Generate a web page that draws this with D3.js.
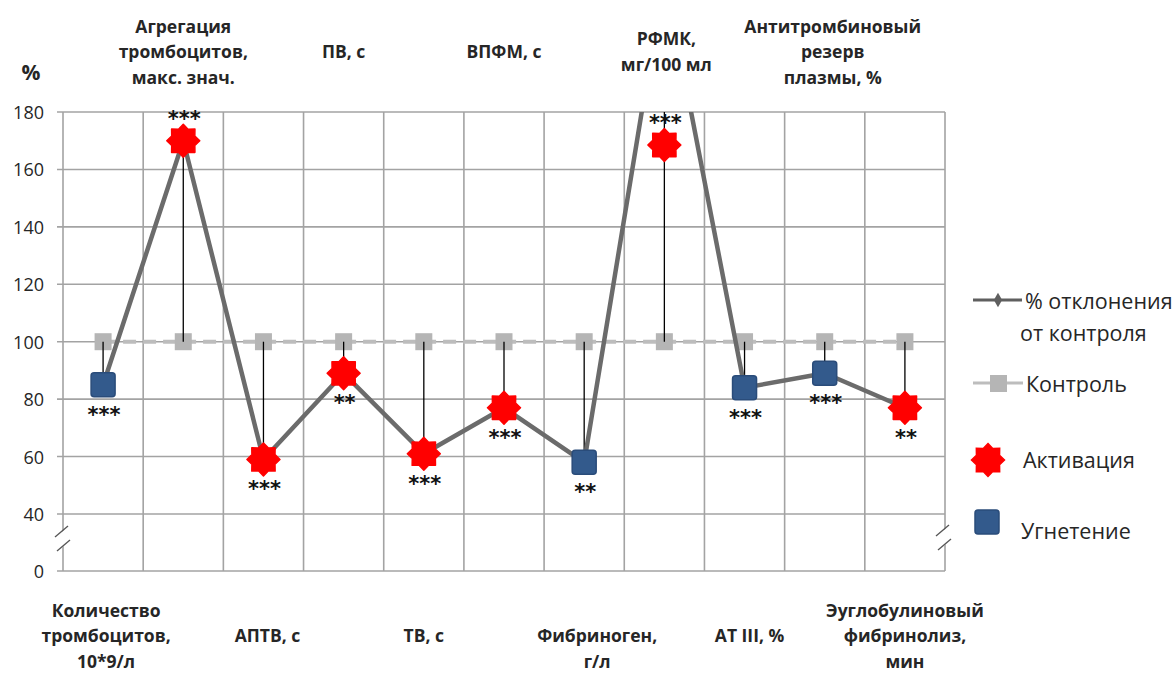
<!DOCTYPE html>
<html><head><meta charset="utf-8">
<script src="https://cdn.jsdelivr.net/npm/d3@7"></script>
<style>
body{margin:0;background:#fff;}
svg{display:block;}
text{font-family:"Open Sans",sans-serif;fill:#262626;}
</style>
</head><body>
<svg id="c" width="1176" height="673"></svg>
<script>
// ---------- data ----------
const categories = ["Количество тромбоцитов, 10*9/л","Агрегация тромбоцитов, макс. знач.","АПТВ, с","ПВ, с","ТВ, с","ВПФМ, с","Фибриноген, г/л","РФМК, мг/100 мл","AT III, %","Антитромбиновый резерв плазмы, %","Эуглобулиновый фибринолиз, мин"];
const labelLines = [["Количество","тромбоцитов,","10*9/л"],["Агрегация","тромбоцитов,","макс. знач."],["АПТВ, с"],["ПВ, с"],["ТВ, с"],["ВПФМ, с"],["","Фибриноген,","г/л"],["РФМК,","мг/100 мл"],["AT III, %"],["Антитромбиновый","резерв","плазмы, %"],["Эуглобулиновый","фибринолиз,","мин"]];
const labelSide = ["bottom","top","bottom","top","bottom","top","bottom","top","bottom","top","bottom"];
const deviation = [85,170,59,89,61,77,58,228,84,89,77];      // % отклонения от контроля
const control = [100,100,100,100,100,100,100,100,100,100,100]; // Контроль
const markerType = ["Угнетение","Активация","Активация","Активация","Активация","Активация","Угнетение","Активация","Угнетение","Угнетение","Активация"];
const markerValue = [85,170,59,89,61,77,58,168.5,84,89,77];
const significance = ["***","***","***","**","***","***","**","***","***","***","**"];
const significanceSide = ["below","above","below","below","below","below","below","above","below","below","below"];
const yTicks = [0,40,60,80,100,120,140,160,180];
const legendItems = [["% отклонения","от контроля"],["Контроль"],["Активация"],["Угнетение"]];

// ---------- layout ----------
const svg = d3.select("#c");
const X0 = 63, X1 = 945, YTOP = 112, YBOT = 571;
const x = d3.scaleBand().domain(categories).range([X0, X1]).padding(0);
const cx = i => x(categories[i]) + x.bandwidth()/2;
const y = d3.scaleLinear().domain([0,40,180]).range([YBOT, 514, YTOP]);

const GRID = "#a3a3a3";
const defs = svg.append("defs");
defs.append("clipPath").attr("id","plotclip").append("rect")
  .attr("x", X0-20).attr("y", YTOP).attr("width", X1-X0+40).attr("height", YBOT-YTOP);
defs.append("filter").attr("id","soft").append("feGaussianBlur").attr("stdDeviation",0.6);

// grid (horizontal with outward ticks)
svg.append("g").selectAll("line").data(yTicks).join("line")
  .attr("x1", X0-6).attr("x2", X1).attr("y1", d=>y(d)).attr("y2", d=>y(d))
  .attr("stroke", GRID).attr("stroke-width", 1.6);
const edges = categories.map(c => x(c)).concat([X1]);
svg.append("g").selectAll("line").data(edges).join("line")
  .attr("x1", d=>d).attr("x2", d=>d).attr("y1", YTOP).attr("y2", YBOT)
  .attr("stroke", GRID).attr("stroke-width", 1.6);

// y tick labels
svg.append("g").selectAll("text").data(yTicks).join("text")
  .attr("x", 44).attr("y", d=>y(d)).attr("text-anchor","end").attr("dominant-baseline","central")
  .style("font-size","18px").text(d=>d);
svg.append("text").attr("x", 31).attr("y", 72).attr("text-anchor","middle").attr("dominant-baseline","central")
  .style("font-size","21px").style("font-weight","bold").text("%");

// axis break marks
function breakMarks(ax, cy){
  const g = svg.append("g");
  g.append("polygon").attr("points", `${ax-7},${cy+2} ${ax+6},${cy-9} ${ax+8},${cy+5} ${ax-5},${cy+16}`)
    .attr("fill","#fff");
  g.append("line").attr("x1", ax-8).attr("y1", cy+2).attr("x2", ax+5).attr("y2", cy-9)
    .attr("stroke","#555").attr("stroke-width",1.3);
  g.append("line").attr("x1", ax-6).attr("y1", cy+16).attr("x2", ax+7).attr("y2", cy+5)
    .attr("stroke","#555").attr("stroke-width",1.3);
}
breakMarks(X0, 535);
breakMarks(X1-1, 534);

// category labels (small horizontal nudges as in the original layout)
const labelNudge = {0: 3, 2: 4, 6: 13, 8: 5, 9: 8, 7: 2};
const labG = svg.append("g");
labelLines.forEach((lines, i) => {
  const centerY = labelSide[i] === "top" ? 51 : 635;
  const lh = 25.5;
  const start = centerY - (lines.length-1)*lh/2;
  lines.forEach((ln, k) => {
    if (!ln) return;
    labG.append("text").attr("x", cx(i) + (labelNudge[i]||0)).attr("y", start + k*lh)
      .attr("text-anchor","middle").attr("dominant-baseline","central")
      .style("font-size","17.5px").style("font-weight","bold").text(ln);
  });
});

// control series
const ctrlLine = d3.line().x((d,i)=>cx(i)).y(d=>y(d));
svg.append("path").datum(control).attr("d", ctrlLine)
  .attr("fill","none").attr("stroke","#bdbdbd").attr("stroke-width",4).attr("stroke-dasharray","13,7");
svg.append("g").selectAll("rect").data(control).join("rect")
  .attr("x",(d,i)=>cx(i)-8.5).attr("y", d=>y(d)-8.5).attr("width",17).attr("height",17)
  .attr("fill","#b5b5b5");

// drop lines (control -> deviation)
const plot = svg.append("g").attr("clip-path","url(#plotclip)");
plot.append("g").selectAll("line").data(deviation).join("line")
  .attr("x1",(d,i)=>cx(i)).attr("x2",(d,i)=>cx(i))
  .attr("y1",(d,i)=>y(control[i])).attr("y2", d=>y(d))
  .attr("stroke","#000").attr("stroke-width",1.3);

// main line
const devLine = d3.line().x((d,i)=>cx(i)).y(d=>y(d));
plot.append("path").datum(deviation).attr("d", devLine)
  .attr("fill","none").attr("stroke","#6b6b6b").attr("stroke-width",4.5).attr("stroke-linejoin","round");

// markers
function starPath(ro, ri, n){
  const pts = [];
  for (let k=0;k<2*n;k++){
    const a = -Math.PI/2 + k*Math.PI/n;
    const r = k%2===0 ? ro : ri;
    pts.push([r*Math.cos(a), r*Math.sin(a)]);
  }
  return "M" + pts.map(p=>p[0].toFixed(2)+","+p[1].toFixed(2)).join("L") + "Z";
}
const STAR = starPath(16.5, 12.5, 8);
const mk = svg.append("g");
markerValue.forEach((v,i)=>{
  if (markerType[i] === "Активация"){
    mk.append("path").attr("d", STAR).attr("transform",`translate(${cx(i)},${y(v)})`)
      .attr("fill","#ff0000").attr("stroke","#ff0000").attr("stroke-width",1.5).attr("stroke-linejoin","round")
      .attr("filter","url(#soft)");
  } else {
    mk.append("rect").attr("x", cx(i)-12).attr("y", y(v)-12).attr("width",24).attr("height",24)
      .attr("rx",3).attr("fill","#335a8c").attr("stroke","#2a4c7a").attr("stroke-width",1.5);
  }
});

// significance labels
svg.append("g").selectAll("text").data(significance).join("text")
  .attr("x",(d,i)=>cx(i)+1)
  .attr("y",(d,i)=> y(markerValue[i]) + (significanceSide[i]==="above" ? -27 : 25) + 12)
  .attr("text-anchor","middle")
  .style("font-family","'DejaVu Sans',sans-serif").style("font-size","21px").style("font-weight","bold")
  .style("letter-spacing","0px").style("fill","#111")
  .text(d=>d);

// legend
const lg = svg.append("g");
const LFS = "21.5px";
lg.append("line").attr("x1",973).attr("x2",1022).attr("y1",300).attr("y2",300)
  .attr("stroke","#5f5f5f").attr("stroke-width",3);
lg.append("path").attr("d", d3.symbol(d3.symbolDiamond, 60)()).attr("transform","translate(998,300)")
  .attr("fill","#5f5f5f");
lg.append("text").attr("x",1025).attr("y",300).attr("dominant-baseline","central")
  .style("font-size",LFS).text(legendItems[0][0]);
lg.append("text").attr("x",1020).attr("y",332).attr("dominant-baseline","central")
  .style("font-size",LFS).text(legendItems[0][1]);
lg.append("line").attr("x1",973).attr("x2",1023).attr("y1",383).attr("y2",383)
  .attr("stroke","#bdbdbd").attr("stroke-width",3);
lg.append("rect").attr("x",990).attr("y",375).attr("width",17).attr("height",17).attr("fill","#b5b5b5");
lg.append("text").attr("x",1026).attr("y",383).attr("dominant-baseline","central")
  .style("font-size",LFS).text(legendItems[1][0]);
lg.append("path").attr("d", STAR).attr("transform","translate(988,460)").attr("fill","#ff0000")
  .attr("stroke","#ff0000").attr("stroke-width",1.5).attr("filter","url(#soft)");
lg.append("text").attr("x",1023).attr("y",459).attr("dominant-baseline","central")
  .style("font-size",LFS).text(legendItems[2][0]);
lg.append("rect").attr("x",975).attr("y",510).attr("width",24).attr("height",24).attr("rx",3)
  .attr("fill","#335a8c").attr("stroke","#2a4c7a").attr("stroke-width",1.5);
lg.append("text").attr("x",1021).attr("y",530).attr("dominant-baseline","central")
  .style("font-size",LFS).text(legendItems[3][0]);
</script>
</body></html>
